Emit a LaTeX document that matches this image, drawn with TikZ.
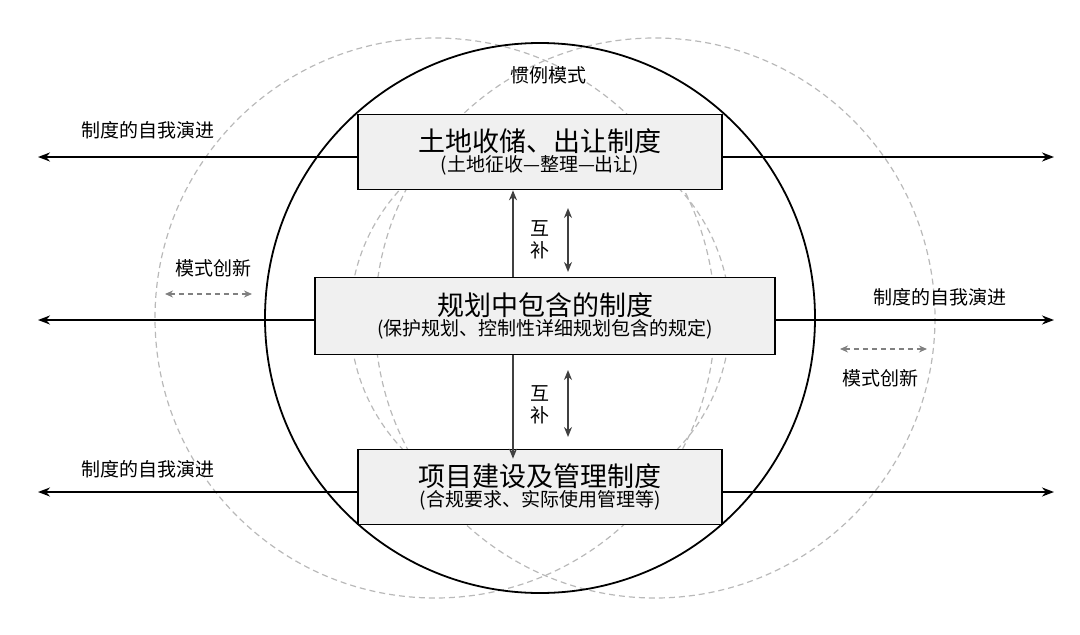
\documentclass[tikz,border=0pt]{standalone}
\usepackage{fontspec}
\setmainfont{Noto Sans CJK SC}
\usetikzlibrary{arrows.meta, positioning}
\tikzset{
    inst/.style={
        draw,
        line width=1.6pt,
        fill=gray!12,
        align=center,
        inner sep=0pt
    },
    evo/.style={
        -{Stealth[length=12pt,width=9pt]},
        line width=2pt
    },
    innov/.style={
        {Stealth[length=8pt,width=7pt]}-{Stealth[length=8pt,width=7pt]},
        gray,
        dash pattern=on 5pt off 4pt,
        line width=1.6pt
    },
    comp/.style={
        -{Stealth[length=10pt,width=8pt]},
        line width=1.8pt,
        black!75
    },
    lbl/.style={
        font=\fontsize{19}{22}\selectfont
    }
}
\begin{document}
\begin{tikzpicture}[x=1pt,y=-1pt]
    \useasboundingbox (0,0) rectangle (1080,635);
    % Circles
    \draw [gray!55, dash pattern=on 6pt off 4pt, line width=1.2pt] (435,318) circle (280);
    \draw [gray!55, dash pattern=on 6pt off 4pt, line width=1.2pt] (655,318) circle (280);
    \draw [gray!55, dash pattern=on 6pt off 4pt, line width=1.2pt] (540,318) circle (190);
    \draw [line width=1.8pt] (540,318) circle (275);

    % Institution boxes
    \node (Land) [inst, minimum width=364, minimum height=75] at (540,152)
        {{\fontsize{27}{31}\selectfont 土地收储、出让制度}\\[1pt]{\fontsize{19}{22}\selectfont (土地征收—整理—出让)}};
    \node (Plan) [inst, minimum width=460, minimum height=77] at (545,316)
        {{\fontsize{27}{31}\selectfont 规划中包含的制度}\\[1pt]{\fontsize{19}{22}\selectfont (保护规划、控制性详细规划包含的规定)}};
    \node (Proj) [inst, minimum width=364, minimum height=75] at (540,487)
        {{\fontsize{27}{31}\selectfont 项目建设及管理制度}\\[1pt]{\fontsize{19}{22}\selectfont (合规要求、实际使用管理等)}};

    % Ends of the evolution arrows
    \coordinate (L1) at (38,157);  \coordinate (R1) at (1054,157);
    \coordinate (L2) at (38,320);  \coordinate (R2) at (1054,320);
    \coordinate (L3) at (38,492);  \coordinate (R3) at (1054,492);
    \draw [evo] (Land.west |- L1) -- (L1);
    \draw [evo] (Land.east |- R1) -- (R1);
    \draw [evo] (Plan.west |- L2) -- (L2);
    \draw [evo] (Plan.east |- R2) -- (R2);
    \draw [evo] (Proj.west |- L3) -- (L3);
    \draw [evo] (Proj.east |- R3) -- (R3);

    % Labels
    \node (Conv) [lbl] at (548,75) {惯例模式};
    \node (Evo1) [lbl] at (148,130) {制度的自我演进};
    \node (Evo2) [lbl] at (940,297) {制度的自我演进};
    \node (Evo3) [lbl] at (148,469) {制度的自我演进};
    \node (Inn1) [lbl] at (213,268) {模式创新};
    \node (Inn2) [lbl] at (880,378) {模式创新};
    \coordinate (IA) at (165,294); \coordinate (IB) at (252,294);
    \coordinate (IC) at (840,349); \coordinate (ID) at (927,349);
    \draw [innov] (IA) -- (IB);
    \draw [innov] (IC) -- (ID);

    % Complementarity
    \draw [comp] (Plan.north -| 513,0) -- (Land.south -| 513,0);
    \draw [comp] (Plan.south -| 513,0) -- ([yshift=-10pt]Proj.north -| 513,0);
    \node (Comp1) [lbl, align=center] at (540,240) {互\\补};
    \node (Comp2) [lbl, align=center] at (540,405) {互\\补};
    \coordinate (CA) at (568,208); \coordinate (CB) at (568,272);
    \coordinate (CC) at (568,370); \coordinate (CD) at (568,437);
    \draw [comp, {Stealth[length=10pt,width=8pt]}-{Stealth[length=10pt,width=8pt]}] (CA) -- (CB);
    \draw [comp, {Stealth[length=10pt,width=8pt]}-{Stealth[length=10pt,width=8pt]}] (CC) -- (CD);
\end{tikzpicture}
\end{document}
